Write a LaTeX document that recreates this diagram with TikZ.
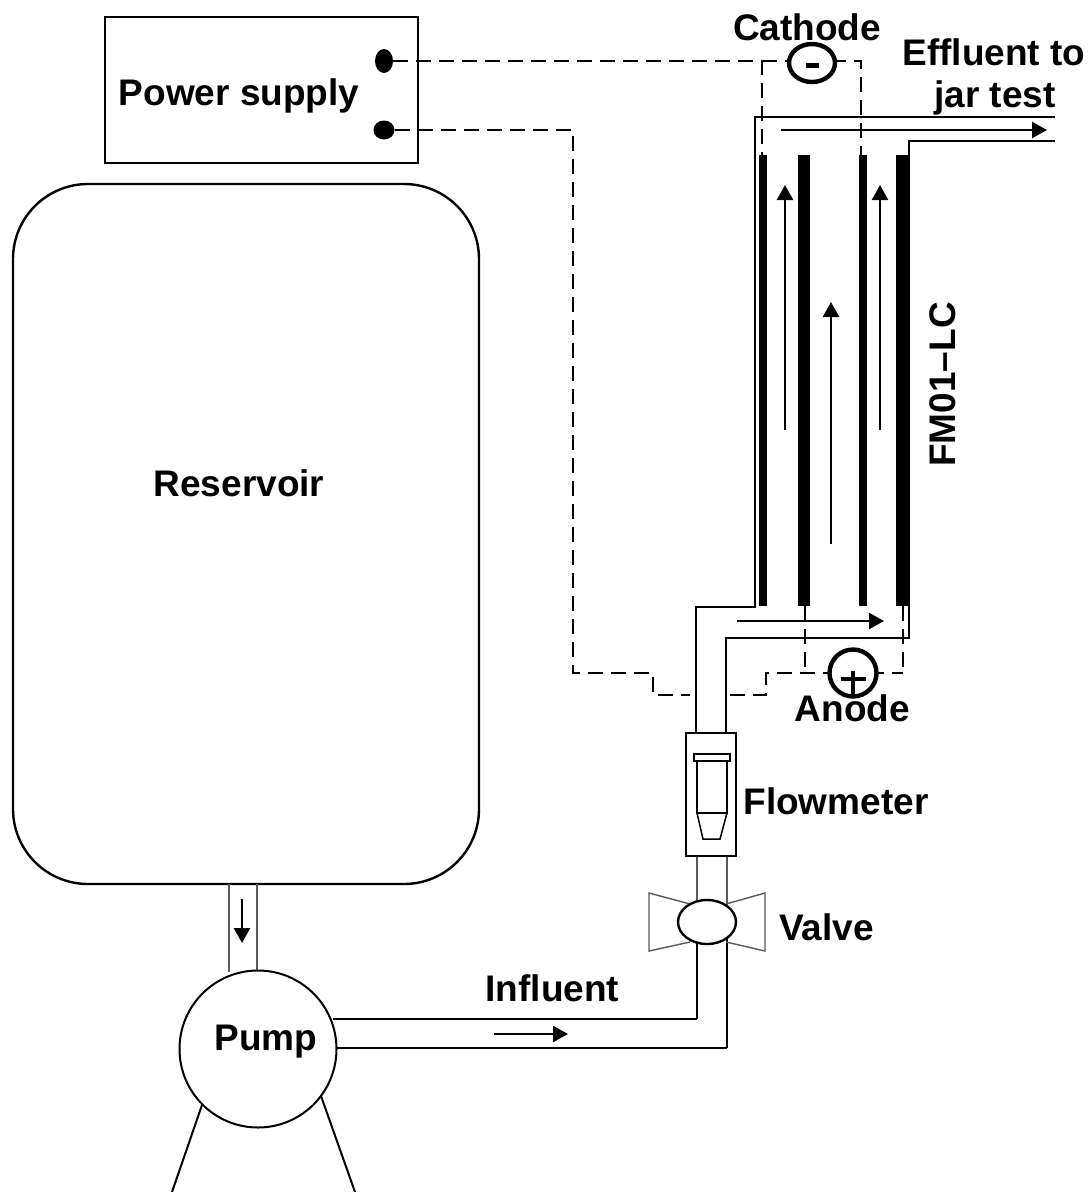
\documentclass[tikz,border=0pt]{standalone}
\usepackage{fontspec}
\setmainfont{Liberation Sans}
\usetikzlibrary{shapes.geometric,arrows.meta}
\tikzset{
  x=1pt,y=-1pt,
  every node/.style={inner sep=0pt,outer sep=0pt},
  lbl/.style={font=\fontsize{37}{40}\selectfont\bfseries,anchor=base},
  wire/.style={draw=black,line width=1.5pt,dash pattern=on 15pt off 8pt},
  pipe/.style={draw=black,line width=2pt,line join=miter},
  thinpipe/.style={draw=black!65,line width=1.4pt},
  flow/.style={draw=black,line width=2.5pt,-{Triangle[length=15pt,width=16pt]}},
  plate/.style={fill=black,anchor=north,minimum height=451pt},
  term/.style={ellipse,fill=black},
  electrode/.style={ellipse,draw=black,line width=4.4pt,fill=white},
}
\begin{document}
\begin{tikzpicture}
\useasboundingbox (0,0) rectangle (1090,1192);
\fill[white] (0,0) rectangle (1090,1192);

% coordinates for wires
\coordinate (wa) at (762,61);
\coordinate (wb) at (762,155);
\coordinate (wc) at (861,61);
\coordinate (wd) at (861,155);
\coordinate (we) at (573,130);
\coordinate (wf) at (573,673);
\coordinate (wg) at (653,673);
\coordinate (wh) at (653,695);
\coordinate (wi) at (690,695);
\coordinate (wj) at (730,695);
\coordinate (wk) at (766,695);
\coordinate (wl) at (766,673);
\coordinate (wm) at (805,606);
\coordinate (wn) at (805,673);
\coordinate (wo) at (903,606);
\coordinate (wp) at (903,673);

% Power supply
\node[draw=black,line width=1.5pt,minimum width=313pt,minimum height=146pt] (power) at (261.5,90) {};
\node[term,minimum width=18pt,minimum height=24pt] (t1) at (384,61) {};
\node[term,minimum width=21pt,minimum height=19pt] (t2) at (384,130) {};
\node[lbl] (powerlbl) at (239,105) {Power supply};

% Reservoir
\node[draw=black,line width=2.4pt,rounded corners=75pt,minimum width=466pt,minimum height=700pt] (reservoir) at (246,534) {};
\node[lbl] (reslbl) at (239,496) {Reservoir};

% pipe reservoir to pump
\coordinate (ra) at (229,884);
\coordinate (rb) at (229,972);
\coordinate (rc) at (257,884);
\coordinate (rd) at (257,972);
\draw[thinpipe] (ra) -- (rb);
\draw[thinpipe] (rc) -- (rd);
\coordinate (ar1) at (242,899);
\coordinate (ar2) at (242,943);
\draw[flow] (ar1) -- (ar2);

% Pump legs
\coordinate (la) at (202,1105);
\coordinate (lb) at (172,1192);
\coordinate (lc) at (321,1096);
\coordinate (ld) at (355,1192);
\draw[pipe] (la) -- (lb);
\draw[pipe] (lc) -- (ld);

% Influent pipes
\coordinate (pa) at (333,1019);
\coordinate (pb) at (697,1019);
\coordinate (pc) at (697,930);
\coordinate (pd) at (335,1048);
\coordinate (pe) at (727,1048);
\coordinate (pf) at (727,930);
\draw[pipe] (pa) -- (pb);
\draw[pipe,line width=1.6pt] (pb) -- (pc);
\draw[pipe] (pd) -- (pe);
\draw[pipe,line width=1.6pt] (pe) -- (pf);
\coordinate (ar3) at (494,1034);
\coordinate (ar4) at (568,1034);
\draw[flow] (ar3) -- (ar4);

% Pump
\node[circle,draw=black,line width=2pt,fill=white,minimum size=157pt] (pump) at (258,1049) {};
\node[lbl] (pumplbl) at (266,1050) {Pump};
\node[lbl] (inflbl) at (552.5,1001) {Influent};

% Valve
\coordinate (va) at (690,904);
\coordinate (vb) at (649,893);
\coordinate (vc) at (649,951);
\coordinate (vd) at (690,942);
\coordinate (ve) at (726,904);
\coordinate (vf) at (765,893);
\coordinate (vg) at (765,951);
\coordinate (vh) at (726,942);
\draw[thinpipe] (va) -- (vb) -- (vc) -- (vd);
\draw[thinpipe] (ve) -- (vf) -- (vg) -- (vh);
\coordinate (qa) at (697,856);
\coordinate (qb) at (697,910);
\coordinate (qc) at (727,856);
\coordinate (qd) at (727,910);
\draw[thinpipe] (qa) -- (qb);
\draw[thinpipe] (qc) -- (qd);
\node[ellipse,draw=black,line width=2.4pt,fill=white,minimum width=58pt,minimum height=44pt] (valve) at (707,922) {};
\node[lbl] (vallbl) at (826.5,940) {Valve};

% Flowmeter
\node[draw=black,line width=2pt,fill=white,minimum width=50pt,minimum height=123pt] (flowm) at (711,794.5) {};
\node[draw=black,line width=2pt,minimum width=36pt,minimum height=7pt] (fcap) at (712,757.5) {};
\coordinate (fa) at (697,761);
\coordinate (fb) at (697,813);
\coordinate (fc) at (727,761);
\coordinate (fd) at (727,813);
\coordinate (fe) at (703,839);
\coordinate (ff) at (720,839);
\draw[pipe,line width=1.7pt] (fa) -- (fb) -- (fd) -- (fc);
\draw[pipe,line width=1.5pt] (fb) -- (fe) -- (ff) -- (fd);
\node[lbl] (flowlbl) at (836,814) {Flowmeter};

% Cell: electrodes
\node[plate,minimum width=8pt] (p1) at (763,155) {};
\node[plate,minimum width=12pt] (p2) at (804,155) {};
\node[plate,minimum width=8pt] (p3) at (862.5,155) {};
\node[plate,minimum width=12pt] (p4) at (902,155) {};

% Cell: walls
\coordinate (ca) at (1055,117);
\coordinate (cb) at (755,117);
\coordinate (cc) at (755,607);
\coordinate (cd) at (696,607);
\coordinate (ce) at (696,733);
\coordinate (cf) at (1055,141);
\coordinate (cg) at (909,141);
\coordinate (ch) at (909,638);
\coordinate (ci) at (726,638);
\coordinate (cj) at (726,733);
\draw[pipe] (ca) -- (cb) -- (cc) -- (cd) -- (ce);
\draw[pipe] (cf) -- (cg) -- (ch) -- (ci) -- (cj);

% Wires
\draw[wire] (t1) -- (wa) -- (wb);
\draw[wire] (wa) -- (wc) -- (wd);
\draw[wire] (t2) -- (we) -- (wf) -- (wg) -- (wh) -- (wi);
\draw[wire] (wj) -- (wk) -- (wl) -- (wp);
\draw[wire] (wm) -- (wn);
\draw[wire] (wo) -- (wp);

% Electrodes' terminals
\node[electrode,minimum width=46pt,minimum height=38pt] (cath) at (812,63) {};
\node[fill=black,minimum width=13pt,minimum height=5pt] (minus) at (812,65) {};
\node[circle,draw=black,line width=4.4pt,fill=white,minimum size=47pt] (anod) at (853,673) {};
\node[fill=black,minimum width=25pt,minimum height=4pt] (plush) at (853,679) {};
\node[fill=black,minimum width=4pt,minimum height=24pt,anchor=north] (plusv) at (853,671) {};
\node[lbl] (cathlbl) at (807,40) {Cathode};
\node[lbl] (anodlbl) at (852.5,721) {Anode};

% Flow arrows
\coordinate (f1a) at (781,130);
\coordinate (f1b) at (1047,130);
\coordinate (f2a) at (785,430);
\coordinate (f2b) at (785,185);
\coordinate (f3a) at (880,430);
\coordinate (f3b) at (880,185);
\coordinate (f4a) at (831,544);
\coordinate (f4b) at (831,302);
\coordinate (f5a) at (737,621);
\coordinate (f5b) at (884,621);
\draw[flow] (f1a) -- (f1b);
\draw[flow] (f2a) -- (f2b);
\draw[flow] (f3a) -- (f3b);
\draw[flow] (f4a) -- (f4b);
\draw[flow] (f5a) -- (f5b);

% Text labels
\node[lbl] (efflbl) at (994,65) {Effluent to};
\node[lbl] (jarlbl) at (995,107) {jar test};
\node[lbl,rotate=90] (fmlbl) at (955,384.5) {FM01--LC};
\end{tikzpicture}
\end{document}
